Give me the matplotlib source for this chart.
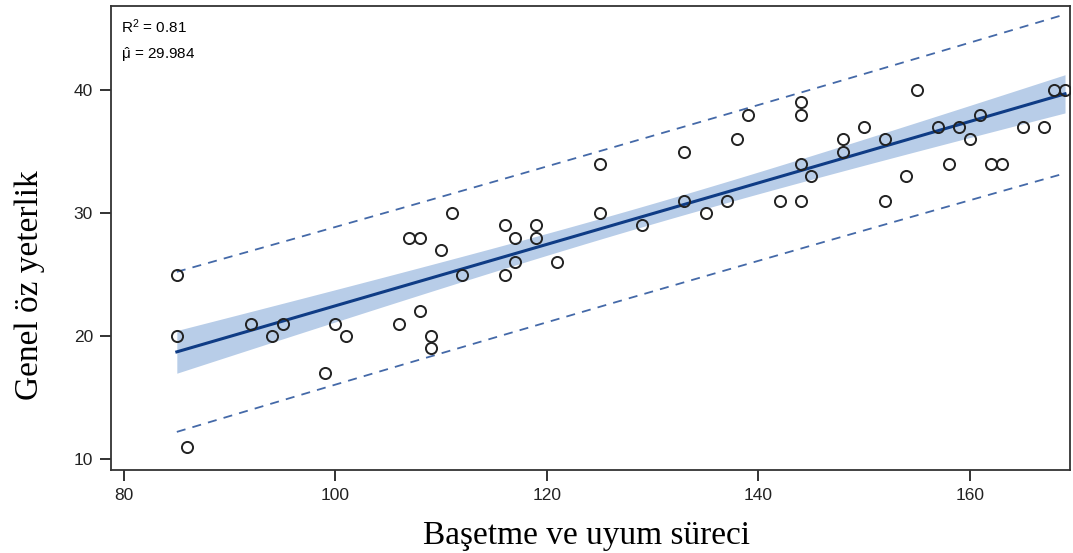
import numpy as np
import matplotlib
matplotlib.use("Agg")
import matplotlib.pyplot as plt

# Başetme ve uyum süreci (x) vs Genel öz yeterlik (y)
baset = [85, 85, 86, 92, 94, 95, 99, 100, 101, 106, 107, 108, 108, 109, 109,
         110, 111, 112, 116, 116, 117, 117, 119, 119, 121, 125, 125, 129, 133,
         133, 135, 137, 138, 139, 142, 144, 144, 144, 144, 145, 148, 148, 150,
         152, 152, 154, 155, 157, 158, 159, 160, 161, 162, 163, 165, 167, 168, 169]
oz_yet = [25, 20, 11, 21, 20, 21, 17, 21, 20, 21, 28, 28, 22, 20, 19,
          27, 30, 25, 29, 25, 28, 26, 29, 28, 26, 34, 30, 29, 35,
          31, 30, 31, 36, 38, 31, 39, 38, 34, 31, 33, 36, 35, 37,
          36, 31, 33, 40, 37, 34, 37, 36, 38, 34, 34, 37, 37, 40, 40]
r2_text = "R$^2$ = 0.81"
mu_text = "$\\hat{\\mu}$ = 29.984"

plt.rcParams["font.family"] = ["Liberation Sans", "DejaVu Sans"]
plt.rcParams["mathtext.fontset"] = "custom"
plt.rcParams["mathtext.rm"] = "Liberation Sans"
plt.rcParams["mathtext.it"] = "Liberation Sans"

x = np.array(baset, dtype=float)
y = np.array(oz_yet, dtype=float)
n = len(x)

# linear fit + 95% confidence / prediction intervals
b1, b0 = np.polyfit(x, y, 1)
resid = y - (b0 + b1 * x)
s = np.sqrt(np.sum(resid ** 2) / (n - 2))
sxx = np.sum((x - x.mean()) ** 2)
t = 2.003
xs = np.linspace(x.min(), x.max(), 200)
yhat = b0 + b1 * xs
se_mean = s * np.sqrt(1 / n + (xs - x.mean()) ** 2 / sxx)
se_pred = s * np.sqrt(1 + 1 / n + (xs - x.mean()) ** 2 / sxx)

fig = plt.figure(figsize=(10.73, 5.53), dpi=100)
ax = fig.add_axes([0.1034, 0.150, 0.8937, 0.839])

ax.fill_between(xs, yhat - t * se_mean, yhat + t * se_mean, color="#b8cde8", lw=0, zorder=1)
ax.plot(xs, yhat, color="#0f3c85", lw=2.2, zorder=3)
ax.plot(xs, yhat + t * se_pred, color="#4469a8", lw=1.3, ls=(0, (5, 4)), zorder=2)
ax.plot(xs, yhat - t * se_pred, color="#4469a8", lw=1.3, ls=(0, (5, 4)), zorder=2)
ax.plot(x, y, ls="none", marker="o", ms=8, mfc="none", mec="#222222", mew=1.4, zorder=4)

ax.set_xlim(78.77, 169.46)
ax.set_ylim(9.1, 46.83)
ax.set_xticks([80, 100, 120, 140, 160])
ax.set_yticks([10, 20, 30, 40])
ax.tick_params(direction="out", length=8, width=1.3, colors="#222222", labelsize=12.5, pad=5)
for sp in ax.spines.values():
    sp.set_color("#333333")
    sp.set_linewidth(1.3)

fig.text(0.547, 0.032, "Başetme ve uyum süreci", family="Liberation Serif", fontsize=24,
         ha="center", va="center")
fig.text(0.028, 0.485, "Genel öz yeterlik", family="Liberation Serif", fontsize=24,
         ha="center", va="center", rotation=90)

ax.text(0.011, 0.975, r2_text, transform=ax.transAxes, fontsize=11, va="top", ha="left")
ax.text(0.011, 0.915, mu_text, transform=ax.transAxes, fontsize=11, va="top", ha="left")

fig.savefig("out.png", dpi=100)
